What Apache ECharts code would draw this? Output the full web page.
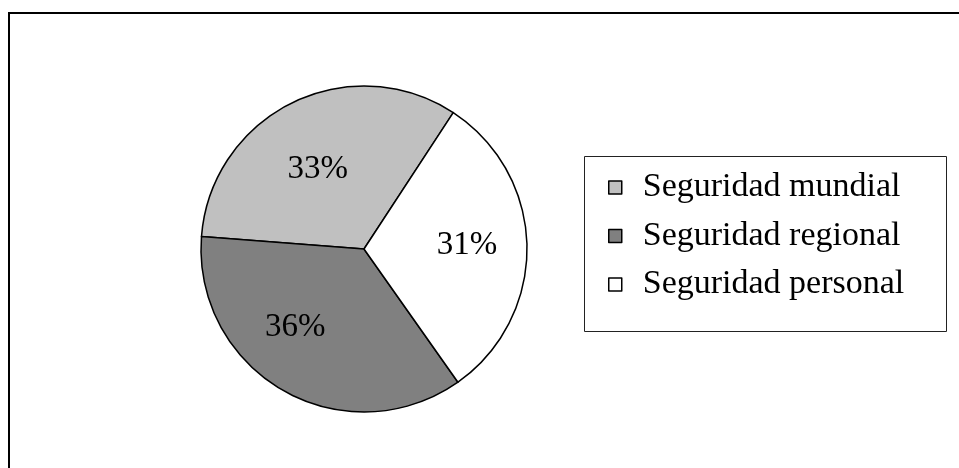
<!DOCTYPE html>
<html>
<head>
<meta charset="utf-8">
<script src="https://cdn.jsdelivr.net/npm/echarts@6/dist/echarts.min.js"></script>
<style>
html,body{margin:0;padding:0;background:#fff;}
#chart{width:959px;height:468px;}
</style>
</head>
<body>
<div id="chart"></div>
<script>
var categories = ['Seguridad mundial', 'Seguridad regional', 'Seguridad personal'];
var values = [33, 36, 31];
var sliceColors = ['#c0c0c0', '#808080', '#ffffff'];
var labelOffsets = [[-9, -3.5], [-27, 4.5], [18.5, -1.7]];

var chart = echarts.init(document.getElementById('chart'), null, {renderer: 'canvas'});
var serif = '"Liberation Serif", "Times New Roman", serif';

var data = categories.map(function (name, i) {
  return {
    name: name,
    value: values[i],
    itemStyle: {color: sliceColors[i]},
    label: {offset: labelOffsets[i]}
  };
});

chart.setOption({
  animation: false,
  backgroundColor: '#ffffff',
  graphic: [
    {
      type: 'rect',
      z: 0,
      shape: {x: 9, y: 13, width: 1000, height: 500},
      style: {fill: 'none', stroke: '#000', lineWidth: 2}
    },
    {
      type: 'rect',
      z: 0,
      shape: {x: 584.5, y: 156.5, width: 362, height: 175},
      style: {fill: '#fff', stroke: '#222', lineWidth: 1}
    }
  ],
  legend: {
    orient: 'vertical',
    left: 608,
    top: 167.5,
    padding: 0,
    itemGap: 8.5,
    itemWidth: 13,
    itemHeight: 13,
    selectedMode: false,
    icon: 'rect',
    itemStyle: {borderColor: '#000', borderWidth: 1.5},
    textStyle: {
      fontFamily: serif,
      fontSize: 34,
      color: '#000',
      lineHeight: 40,
      padding: [0, 0, 0, 16]
    },
    data: categories
  },
  series: [{
    type: 'pie',
    center: [364, 249],
    radius: [0, 163],
    startAngle: 56.8,
    clockwise: false,
    avoidLabelOverlap: false,
    silent: true,
    itemStyle: {borderColor: '#000', borderWidth: 1.5},
    label: {
      show: true,
      position: 'inside',
      formatter: '{d}%',
      fontFamily: serif,
      fontSize: 33,
      color: '#000'
    },
    labelLine: {show: false},
    emphasis: {disabled: true},
    data: data
  }]
});
</script>
</body>
</html>
